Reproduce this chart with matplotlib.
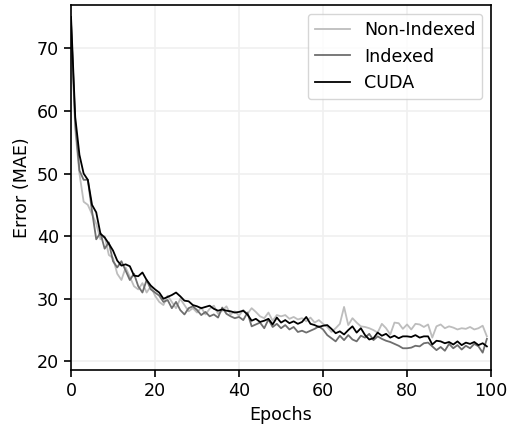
import numpy as np
import matplotlib
matplotlib.use("Agg")
import matplotlib.pyplot as plt

epochs = np.arange(100)

non_indexed = [
    74, 57, 50, 45.5, 45, 43.5, 42, 39.5, 40, 37,
    36.5, 34, 33, 35, 33.5, 32, 31.5, 32.5, 31, 32,
    30.5, 29.5, 29, 30.5, 29.5, 28.5, 30, 29, 28, 28.5,
    27.8, 28.6, 27.5, 28.4, 28.9, 27.6, 28.1, 28.8, 27.5, 28,
    27.3, 28.2, 27.6, 28.5, 27.9, 27.2, 26.9, 27.8, 26.5, 27.4,
    27.2, 27.4, 26.8, 27.1, 26.7, 26.9, 26.4, 27, 26.2, 26.6,
    26, 25.5, 24.7, 25.3, 26, 28.7, 25.8, 26.9, 26.2, 25.6,
    25.5, 25.3, 25, 24.6, 26, 25.3, 24.3, 26.2, 26.1, 25.2,
    25.9, 25.1, 26, 25.9, 25.5, 25.9, 23.8, 25.6, 25.9, 25.3,
    25.6, 25.4, 25.1, 25.3, 25.2, 25.5, 25.1, 25.3, 25.7, 24,
]

indexed = [
    74, 58, 50.5, 49, 49, 44, 39.5, 40.5, 38, 39,
    36, 35, 36, 34.5, 33, 34, 32, 31, 33, 31.5,
    31, 30.5, 29.5, 29.8, 28.5, 29.5, 28.2, 27.5, 28.5, 28.8,
    28.2, 27.4, 27.9, 27.2, 27.5, 27, 28.6, 27.6, 27.2, 26.9,
    27.1, 26.6, 27.8, 25.6, 25.9, 26.2, 25.3, 26.7, 25.5, 26,
    25.3, 25.8, 25.1, 25.5, 24.7, 24.9, 24.6, 24.9, 25.2, 25.6,
    25.1, 24.2, 23.7, 23.2, 24.1, 23.4, 24.2, 23.5, 23.2, 24.1,
    23.8, 24.4, 23.4, 24, 23.6, 23.3, 23.1, 22.8, 22.5, 22.1,
    22.1, 22.2, 22.5, 22.4, 22.9, 23, 22.4, 21.8, 22.3, 21.7,
    22.8, 22.1, 22.6, 21.9, 22.5, 22.1, 22.8, 22.4, 21.4, 23.6,
]

cuda = [
    75, 59, 53, 50, 49, 45, 43.8, 40.4, 39.8, 38.8,
    37.7, 36.1, 35.3, 35.5, 35.2, 33.7, 33.6, 34.2, 33, 32.1,
    31.5, 31, 30, 30.3, 30.6, 31, 30.4, 29.7, 29.6, 29,
    28.8, 28.5, 28.7, 28.9, 28.4, 28.1, 28.3, 28.1, 28, 27.8,
    27.9, 28.1, 27.5, 26.5, 26.8, 26.3, 26.5, 26.8, 25.9, 27,
    26.2, 26.6, 26.1, 26.4, 26, 26.3, 27.1, 26, 25.8, 25.5,
    25.7, 25.8, 25.2, 24.5, 24.8, 24.3, 25, 25.6, 24.6, 25.3,
    24.2, 23.5, 23.7, 24.6, 24.1, 24.4, 23.8, 24.1, 23.7, 24,
    24, 23.9, 24.2, 23.8, 24, 24, 22.7, 23.3, 23.2, 22.9,
    23.1, 22.7, 23.2, 22.6, 23, 22.8, 23.1, 22.6, 22.9, 22.4,
]

fs = 12.6

fig = plt.figure(figsize=(5.11, 4.25), dpi=100)
ax = fig.add_axes([0.139, 0.129, 0.822, 0.859])

ax.plot(epochs, non_indexed, color="#bdbdbd", lw=1.3, label="Non-Indexed")
ax.plot(epochs, indexed, color="#6e6e6e", lw=1.3, label="Indexed")
ax.plot(epochs, cuda, color="black", lw=1.3, label="CUDA")

ax.set_xlim(0, 100)
ax.set_ylim(18.6, 76.9)
ax.set_xticks([0, 20, 40, 60, 80, 100])
ax.set_yticks([20, 30, 40, 50, 60, 70])
ax.grid(True, color="#f0f0f0", lw=1.2)
ax.set_axisbelow(True)
for s in ax.spines.values():
    s.set_color("black")
    s.set_linewidth(1.2)
ax.tick_params(labelsize=fs, width=1.2, length=5)
ax.set_xlabel("Epochs", fontsize=fs)
ax.set_ylabel("Error (MAE)", fontsize=fs)
ax.legend(loc="upper right", fontsize=fs)

fig.savefig("out.png", dpi=100)
